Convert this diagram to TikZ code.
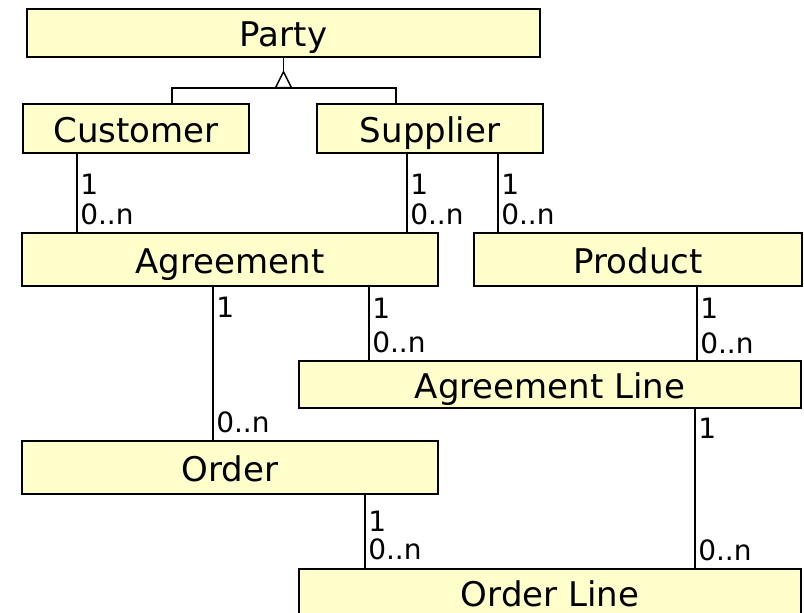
\documentclass[tikz,border=0pt]{standalone}
\usepackage{fontspec}
\setmainfont{DejaVu Sans}
\usetikzlibrary{calc}
\begin{document}
\begin{tikzpicture}[x=0.75pt,y=-0.75pt,
  box/.style 2 args={draw=black, line width=1.1pt, fill=boxfill,
    minimum width=#1*0.75pt, minimum height=#2*0.75pt, inner sep=0pt,
    text height=20.5pt, text depth=0pt,
    font=\fontsize{25.5}{30}\selectfont},
  lbl/.style={anchor=west, inner sep=0pt, font=\fontsize{21}{25}\selectfont},
  link/.style={draw=black, line width=1.1pt}]
\definecolor{boxfill}{HTML}{FFFFCC}
\useasboundingbox (0,0) rectangle (804,613);
\clip (0,0) rectangle (804,613);

% classes
\node[box={513}{48}] (party)     at (283.5,33)  {Party};
\node[box={226}{49}] (customer)  at (136,128.5) {Customer};
\node[box={226}{49}] (supplier)  at (430,128.5) {Supplier};
\node[box={416}{53}] (agreement) at (230,259.5) {Agreement};
\node[box={328}{53}] (product)   at (638,259.5) {Product};
\node[box={502}{47}] (agrline)   at (550,384.5) {Agreement Line};
\node[box={416}{53}] (order)     at (230,467.5) {Order};
\node[box={502}{48}] (ordline)   at (550,593)   {Order Line};

% generalisation: Customer and Supplier are kinds of Party
\coordinate (tip) at ($(party.south)+(0,14)$);
\coordinate (gl) at (172,88);
\coordinate (gr) at (396,88);
\draw[link] (party.south) -- (tip);
\draw[link] (customer.north -| gl) -- (gl) -- (gr) -- (supplier.north -| gr);
\draw[link, fill=white] (tip) -- ++(-8,16) -- ++(16,0) -- cycle;

% x positions of the associations
\coordinate (a1) at (77,0);
\coordinate (a2) at (407,0);
\coordinate (a3) at (498,0);
\coordinate (a4) at (213,0);
\coordinate (a5) at (369,0);
\coordinate (a6) at (697,0);
\coordinate (a7) at (695,0);
\coordinate (a8) at (365,0);

% associations
\draw[link] (customer.south -| a1) -- (agreement.north -| a1);
\draw[link] (supplier.south -| a2) -- (agreement.north -| a2);
\draw[link] (supplier.south -| a3) -- (product.north -| a3);
\draw[link] (agreement.south -| a4) -- (order.north -| a4);
\draw[link] (agreement.south -| a5) -- (agrline.north -| a5);
\draw[link] (product.south -| a6) -- (agrline.north -| a6);
\draw[link] (agrline.south -| a7) -- (ordline.north -| a7);
\draw[link] (order.south -| a8) -- (ordline.north -| a8);

% multiplicities
\node[lbl] (m1a) at (80,184) {1};
\node[lbl] (m1b) at (80,214) {0..n};
\node[lbl] (m2a) at (410,184) {1};
\node[lbl] (m2b) at (410,214) {0..n};
\node[lbl] (m3a) at (501,184) {1};
\node[lbl] (m3b) at (501,214) {0..n};
\node[lbl] (m4a) at (216,307) {1};
\node[lbl] (m4b) at (216,422) {0..n};
\node[lbl] (m5a) at (372,308) {1};
\node[lbl] (m5b) at (372,342) {0..n};
\node[lbl] (m6a) at (700,308) {1};
\node[lbl] (m6b) at (700,343) {0..n};
\node[lbl] (m7a) at (698,428) {1};
\node[lbl] (m7b) at (698,550) {0..n};
\node[lbl] (m8a) at (368,521) {1};
\node[lbl] (m8b) at (368,549) {0..n};
\end{tikzpicture}
\end{document}
